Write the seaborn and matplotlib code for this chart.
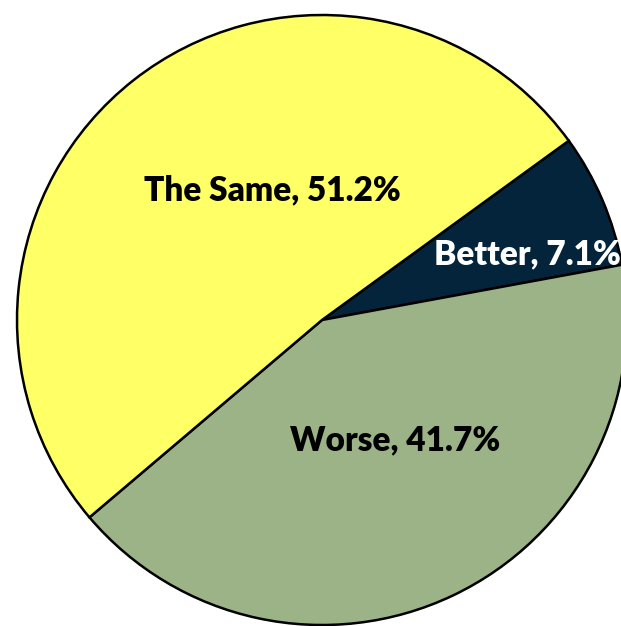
import matplotlib
matplotlib.use("Agg")
import matplotlib.pyplot as plt
import seaborn as sns

categories = ["Better", "Worse", "The Same"]
shares = [7.1, 41.7, 51.2]
colors = ["#03243A", "#9BB386", "#FFFF66"]
text_colors = ["white", "black", "black"]

sns.set_style("white")
plt.rcParams["font.family"] = ["Lato", "DejaVu Sans"]


def main():
    fig = plt.figure(figsize=(6.21, 6.26), dpi=100)
    # square axes, pie centre at ~(322, 320) px, radius ~305 px
    ax = fig.add_axes([17 / 621, 1 / 626, 610 / 621, 610 / 626])

    wedges, _ = ax.pie(
        shares,
        colors=colors,
        startangle=36,
        counterclock=False,
        radius=1,
        wedgeprops=dict(edgecolor="black", linewidth=1.8),
        frame=False,
    )
    ax.set_xlim(-1, 1)
    ax.set_ylim(-1, 1)
    ax.set_aspect("equal")
    ax.axis("off")

    # label anchor positions (fraction of radius)
    label_pos = [(0.672, 0.216), (0.239, -0.394), (-0.164, 0.426)]
    for name, val, tc, (x, y) in zip(categories, shares, text_colors, label_pos):
        ax.text(x, y, f"{name}, {val}%", ha="center", va="center",
                fontsize=24, fontweight="heavy", color=tc)

    fig.savefig("out.png", dpi=100)


if __name__ == "__main__":
    main()
